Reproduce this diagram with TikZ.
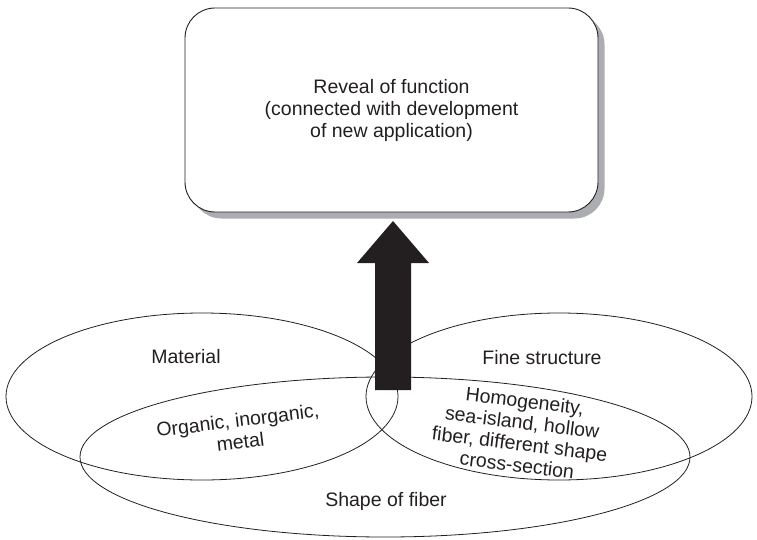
\documentclass[tikz,border=0pt]{standalone}
\usepackage{fontspec}
\setmainfont{Liberation Sans}
\usetikzlibrary{shapes.geometric,shadows,calc}
\definecolor{ink}{HTML}{231F20}
\definecolor{shade}{HTML}{ABADB0}
\begin{document}
\begin{tikzpicture}[x=1pt,y=-1pt,
  every node/.style={text=ink},
  txt/.style={align=center,font=\fontsize{19.5}{22}\selectfont,inner sep=0pt},
  region/.style={ellipse,draw=ink,line width=0.8pt,inner sep=0pt},
  goalbox/.style={draw=ink,fill=white,line width=0.9pt,rounded corners=30pt,
    minimum width=413pt,minimum height=204pt,
    drop shadow={shadow xshift=6.5pt,shadow yshift=-6.5pt,opacity=1,fill=shade}},
  bigarrow/.style={fill=ink}]
\useasboundingbox (0,0) rectangle (757,540);

% the three overlapping fields
\node[region,minimum width=392pt,minimum height=167pt] (material) at (202,396.5) {};
\node[region,minimum width=386pt,minimum height=167pt] (fine) at (559,396.5) {};
\node[region,minimum width=610pt,minimum height=160pt] (shape) at (385,457) {};

% labels of the fields
\node[txt] (lmat) at (186,357) {Material};
\node[txt] (lfine) at (542,358) {Fine structure};
\node[txt] (lshape) at (386,501) {Shape of fiber};
\node[txt,rotate=7] (lorg) at (239,431) {Organic, inorganic,\\metal};
\node[txt,rotate=-7,font=\fontsize{19.5}{21.5}\selectfont] (lhom) at (521,433)
  {Homogeneity,\\sea-island, hollow\\fiber, different shape\\cross-section};

% the goal
\node[goalbox,txt] (goal) at (391.5,110)
  {Reveal of function\\(connected with development\\of new application)};

% thick upward arrow from the overlap towards the goal
\coordinate (tail) at (393,390);
\coordinate (tip) at (393,221);
\fill[bigarrow] ($(tail)+(-18,0)$) -- ($(tail)+(18,0)$) -- ($(tip)+(18,42)$)
  -- ($(tip)+(36,42)$) -- (tip) -- ($(tip)+(-36,42)$) -- ($(tip)+(-18,42)$) -- cycle;
\end{tikzpicture}
\end{document}
